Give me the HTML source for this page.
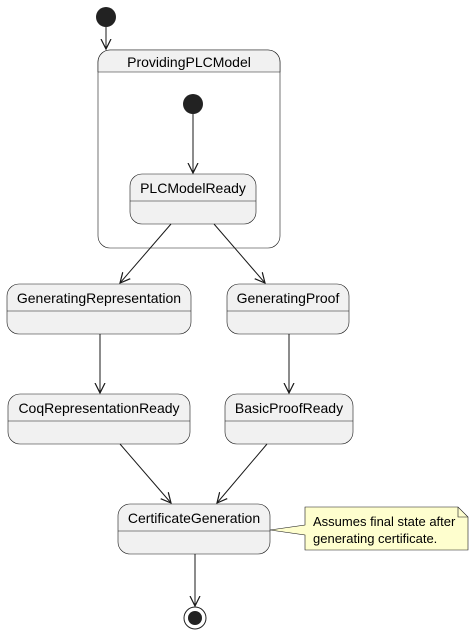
<!DOCTYPE html>
<html><head><style>body{margin:0;background:#fff}svg{display:block}text{font-family:"Liberation Sans",sans-serif;font-size:14px;fill:#000}</style></head><body>
<svg width="474" height="641" viewBox="0 0 474 641">
<defs><marker id="a" markerWidth="12" markerHeight="12" refX="10" refY="6" orient="auto" markerUnits="userSpaceOnUse"><path d="M0,1 L10,6 L0,11 M10,6" fill="none" stroke="#181818" stroke-width="1.2"/></marker></defs>
<g fill="#f1f1f1" stroke="#181818" stroke-width="0.6">
<rect x="98" y="50" width="182" height="198" rx="12" fill="#fff"/>
<path d="M98,72 L98,62 A12,12 0 0 1 110,50 L268,50 A12,12 0 0 1 280,62 L280,72 Z"/>
<rect x="130" y="174" width="126" height="50" rx="12"/><line x1="130" y1="201" x2="256" y2="201"/>
<rect x="7" y="284" width="184" height="50" rx="12"/><line x1="7" y1="311" x2="191" y2="311"/>
<rect x="227" y="284" width="122" height="50" rx="12"/><line x1="227" y1="311" x2="349" y2="311"/>
<rect x="8" y="394" width="182" height="50" rx="12"/><line x1="8" y1="421" x2="190" y2="421"/>
<rect x="225" y="394" width="128" height="50" rx="12"/><line x1="225" y1="421" x2="353" y2="421"/>
<rect x="118" y="504" width="152" height="50" rx="12"/><line x1="118" y1="531" x2="270" y2="531"/>
</g>
<path d="M305,507 L458,507 L468,517 L468,550 L305,550 L305,535 L270,530 L305,525 Z" fill="#fefece" stroke="#181818" stroke-width="0.6"/>
<path d="M458,507 L458,517 L468,517" fill="none" stroke="#181818" stroke-width="0.6"/>
<circle cx="106" cy="17" r="10" fill="#222"/>
<circle cx="193" cy="104" r="10" fill="#222"/>
<circle cx="195" cy="618" r="11" fill="none" stroke="#222" stroke-width="1"/>
<circle cx="195" cy="618" r="7" fill="#222"/>
<g stroke="#181818" stroke-width="1" marker-end="url(#a)">
<line x1="106" y1="27" x2="106" y2="49"/>
<line x1="193" y1="114" x2="193" y2="173"/>
<line x1="171" y1="224" x2="120" y2="283"/>
<line x1="214" y1="224" x2="265" y2="283"/>
<line x1="100" y1="334" x2="100" y2="393"/>
<line x1="289" y1="334" x2="289" y2="393"/>
<line x1="120" y1="444" x2="171" y2="503"/>
<line x1="267" y1="444" x2="217" y2="503"/>
<line x1="195" y1="554" x2="195" y2="606"/>
</g>
<text x="189" y="67" text-anchor="middle">ProvidingPLCModel</text>
<text x="193" y="193" text-anchor="middle">PLCModelReady</text>
<text x="99" y="303" text-anchor="middle">GeneratingRepresentation</text>
<text x="288" y="303" text-anchor="middle">GeneratingProof</text>
<text x="99" y="413" text-anchor="middle">CoqRepresentationReady</text>
<text x="289" y="413" text-anchor="middle">BasicProofReady</text>
<text x="194" y="523" text-anchor="middle">CertificateGeneration</text>
<text x="313" y="526" style="font-size:13px">Assumes final state after</text>
<text x="313" y="543" style="font-size:13px">generating certificate.</text>
</svg>
</body></html>
